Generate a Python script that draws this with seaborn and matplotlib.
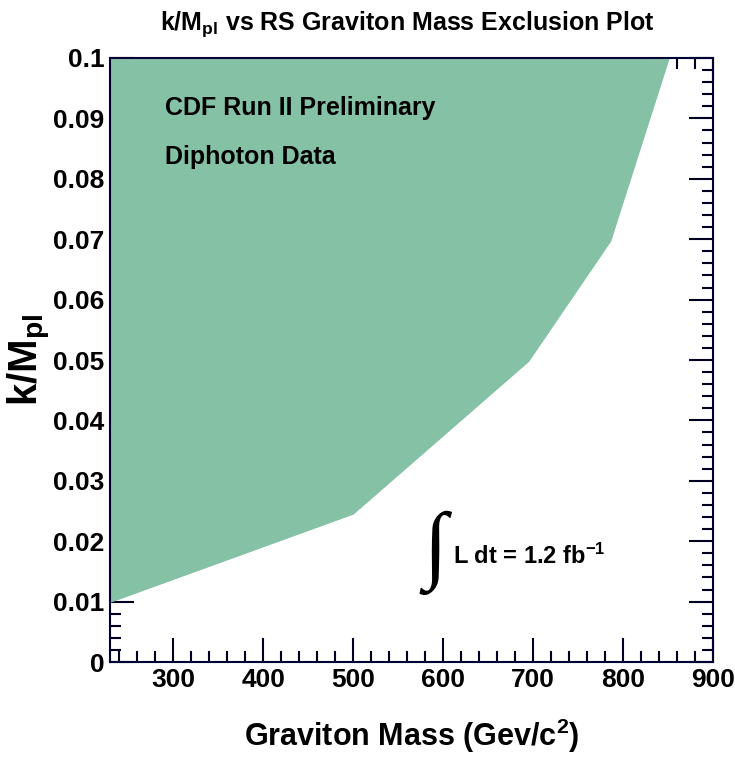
import numpy as np
import pandas as pd
import seaborn as sns
import matplotlib.pyplot as plt
from matplotlib.ticker import MultipleLocator

# exclusion boundary
mass = [230, 500, 695, 786, 851]
kmpl = [0.0099, 0.0245, 0.0498, 0.0697, 0.1]
xticks = [300, 400, 500, 600, 700, 800, 900]
yticks = [0, 0.01, 0.02, 0.03, 0.04, 0.05, 0.06, 0.07, 0.08, 0.09, 0.1]
ytick_labels = ['0', '0.01', '0.02', '0.03', '0.04', '0.05', '0.06', '0.07', '0.08', '0.09', '0.1']

dados = pd.DataFrame({'mass': mass, 'kmpl': kmpl})

sns.set_style('ticks')
plt.rcParams['font.family'] = ['Liberation Sans', 'DejaVu Sans']
plt.rcParams['font.weight'] = 'bold'
plt.rcParams['mathtext.default'] = 'regular'
plt.rcParams['text.color'] = 'black'
plt.rcParams['axes.labelcolor'] = 'black'
plt.rcParams['xtick.labelcolor'] = 'black'
plt.rcParams['ytick.labelcolor'] = 'black'

fig = plt.figure(figsize=(7.35, 7.58), dpi=100)
ax = fig.add_axes([0.1497, 0.1266, 0.8207, 0.7969])

ax.fill_between(dados['mass'], dados['kmpl'], 0.1, color='#85c2a5', linewidth=0)
sns.lineplot(data=dados, x='mass', y='kmpl', ax=ax, color='#85c2a5', linewidth=0.5)

ax.set_xlim(230, 900)
ax.set_ylim(0, 0.1)
ax.set_xticks(xticks)
ax.set_yticks(yticks)
ax.set_yticklabels(ytick_labels)
ax.xaxis.set_minor_locator(MultipleLocator(20))
ax.yaxis.set_minor_locator(MultipleLocator(0.002))
ax.tick_params(which='both', direction='in', top=True, right=True, color='#000022',
               width=1.5, labelsize=19, pad=4, labelcolor='black')
ax.tick_params(which='major', length=17)
ax.tick_params(which='minor', length=8)
for lbl in ax.get_xticklabels() + ax.get_yticklabels():
    lbl.set_fontweight('bold')
for s in ax.spines.values():
    s.set_color('#000033')
    s.set_linewidth(1.5)

ax.set_xlabel('Graviton Mass (Gev/c$^{2}$)', fontsize=22, fontweight='bold', labelpad=18)
ax.set_ylabel('k/M$_{pl}$', fontsize=29, fontweight='bold', labelpad=0)
fig.text(0.554, 0.968, 'k/M$_{pl}$ vs RS Graviton Mass Exclusion Plot', ha='center', va='center',
         fontsize=18, fontweight='bold')

ax.text(0.091, 0.917, 'CDF Run II Preliminary', transform=ax.transAxes, fontsize=18,
        fontweight='bold', va='center')
ax.text(0.091, 0.836, 'Diphoton Data', transform=ax.transAxes, fontsize=18,
        fontweight='bold', va='center')
ax.text(0.539, 0.18, '\u222b', transform=ax.transAxes, fontsize=62,
        family=['Liberation Serif', 'DejaVu Serif'], va='center', ha='center',
        fontweight='normal')
ax.text(0.569, 0.175, 'L dt = 1.2 fb$^{-1}$', transform=ax.transAxes, fontsize=17,
        fontweight='bold', va='center')

fig.savefig('out.png', dpi=100)
